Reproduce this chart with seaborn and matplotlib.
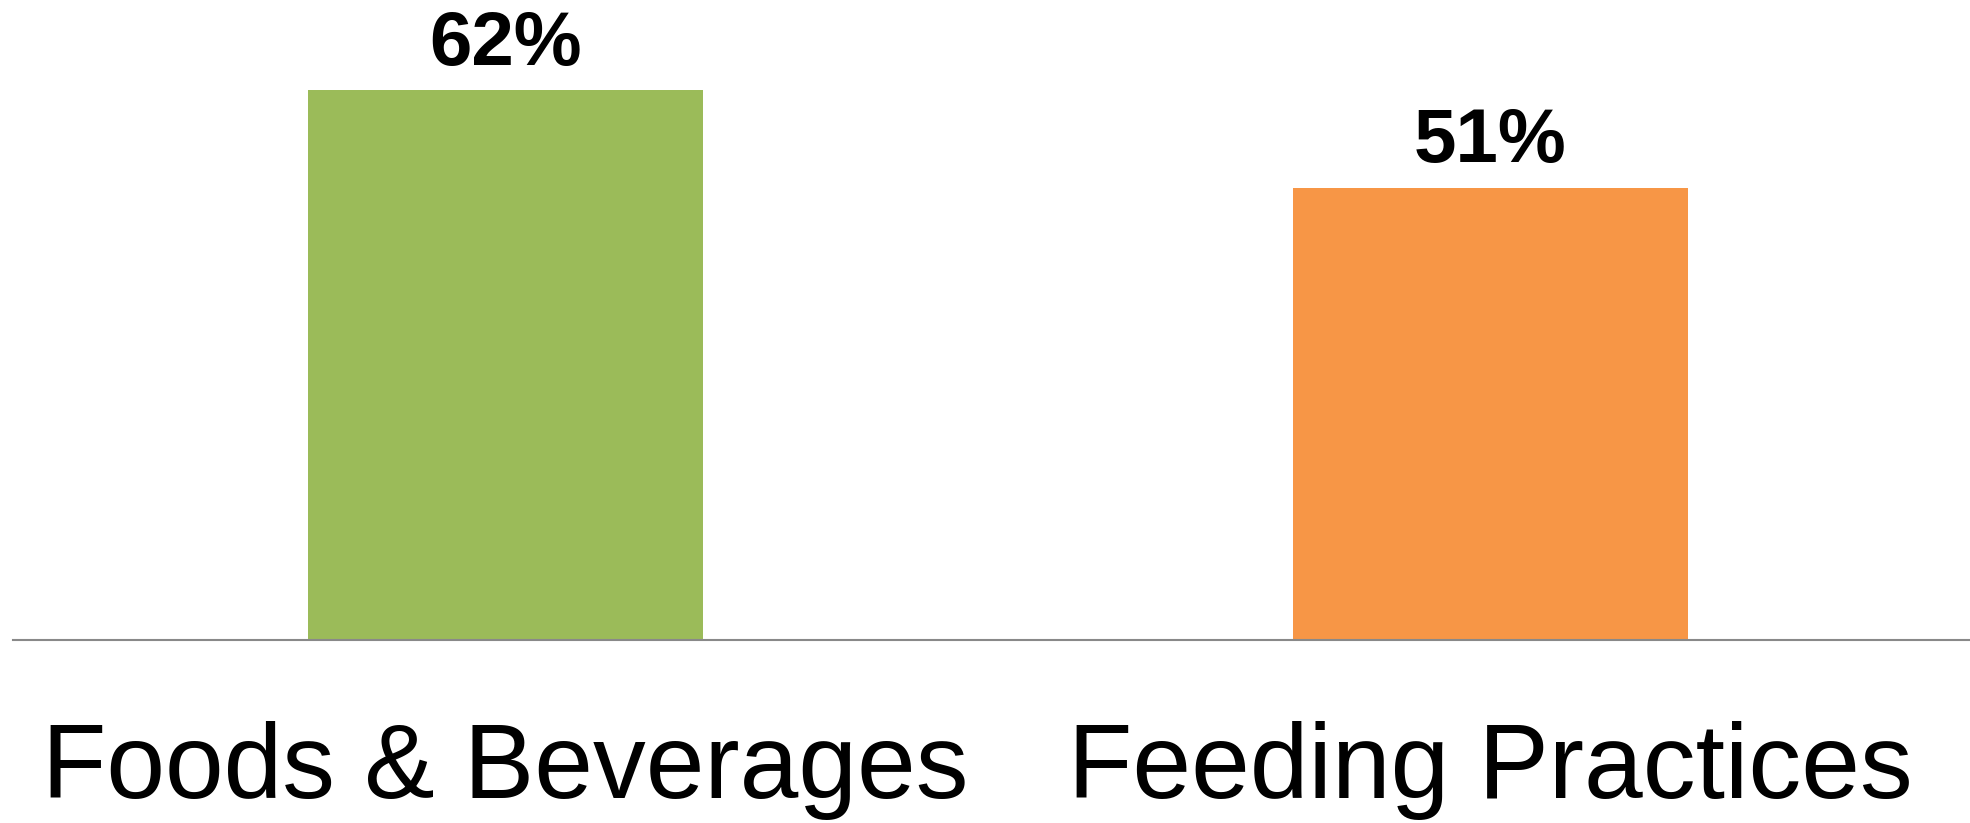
import matplotlib
matplotlib.use("Agg")
import matplotlib.pyplot as plt
import seaborn as sns
import pandas as pd

categories = ["Foods & Beverages", "Feeding Practices"]
values = [62, 51]
bar_colors = ["#9BBB59", "#F79646"]

sns.set_theme(style="white")
plt.rcParams["font.family"] = ["Liberation Sans", "DejaVu Sans"]

df = pd.DataFrame({"category": categories, "value": values})

W, H, DPI = 1970, 823, 100
fig = plt.figure(figsize=(W / DPI, H / DPI), dpi=DPI)
ax_left = 13 / W
ax_bottom = (H - 640) / H
ax = fig.add_axes([ax_left, ax_bottom, 1970 / W, 640 / H])

sns.barplot(data=df, x="category", y="value", hue="category",
            palette=bar_colors, width=0.401, legend=False, ax=ax,
            saturation=1, edgecolor="none")

ax.set_xlim(-0.5, 1.5)
ax.set_ylim(0, 72.2)

for i, v in enumerate(values):
    ax.text(i, v + 2.9, f"{v}%", ha="center", va="baseline",
            fontsize=55, fontweight="bold", color="black")

for side in ["top", "right", "left"]:
    ax.spines[side].set_visible(False)
ax.spines["bottom"].set_color("#898989")
ax.spines["bottom"].set_linewidth(1.5)
ax.set_yticks([])
ax.set_xlabel("")
ax.set_ylabel("")
ax.tick_params(axis="x", length=0, pad=58, labelsize=76, labelcolor="black")

fig.savefig("out.png", dpi=DPI)
